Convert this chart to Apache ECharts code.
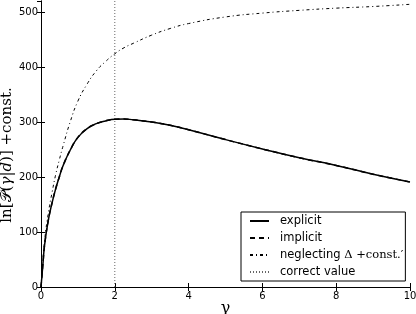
<!DOCTYPE html>
<html>
<head>
<meta charset="utf-8">
<script src="https://cdn.jsdelivr.net/npm/echarts@6/dist/echarts.min.js"></script>
<style>html,body{margin:0;padding:0;background:#fff;}#c{width:416px;height:314px;}</style>
</head>
<body>
<div id="c"></div>
<script>
var gammaVals    = [0, 0.05, 0.1, 0.2, 0.3, 0.4, 0.5, 0.6, 0.8, 1.0, 1.25, 1.5, 1.75, 2.0, 2.25, 2.5, 3.0, 3.5, 4.0, 5.0, 6.0, 7.0, 8.0, 9.0, 10.0];
var explicitVals = [0, 40, 78, 122, 153, 179, 201, 221, 250, 272, 288, 297, 302, 305, 305.5, 304, 300, 294, 286, 268, 251, 235, 221, 205, 191];
var implicitVals = [0, 40, 78, 122, 153, 179, 201, 221, 250, 272, 288, 297, 302, 305, 305.5, 304, 300, 294, 286, 268, 251, 235, 221, 205, 191];
var neglectVals  = [0, 45, 86, 135, 172, 205, 232, 257, 302, 338, 369, 393, 410, 424, 435, 443, 458, 470, 479, 491, 498, 503, 507, 510, 514];
var correctGamma = 2;
var yRange = [0, 520];
var yTicks = [0, 100, 200, 300, 400, 500];

function pairs(xs, ys){ return xs.map(function(x,i){ return [x, ys[i]]; }); }

var chart = echarts.init(document.getElementById('c'), null, {renderer:'canvas'});
var tickStyle = {show:true, inside:true, length:4, lineStyle:{color:'#000', width:1}};
var axisLineStyle = {show:true, lineStyle:{color:'#000', width:1}};
var option = {
  animation:false,
  backgroundColor:'#fff',
  grid:{left:41, right:6, top:1, bottom:27, containLabel:false, outerBoundsMode:'none'},
  xAxis:[{
    type:'value', min:0, max:10, interval:2, position:'bottom',
    axisLine:axisLineStyle, axisTick:tickStyle, splitLine:{show:false},
    axisLabel:{color:'#000', fontSize:10, fontFamily:'DejaVu Sans', margin:4},
    name:'γ', nameLocation:'middle', nameGap:14, nameMoveOverlap:false,
    nameTextStyle:{fontFamily:'DejaVu Serif', fontStyle:'normal', fontSize:16, color:'#000'}
  },{
    type:'value', min:0, max:10, interval:2, position:'top',
    axisLine:axisLineStyle, axisTick:tickStyle, splitLine:{show:false}, axisLabel:{show:false}
  }],
  yAxis:[{
    type:'value', min:yRange[0], max:yRange[1], interval:100, position:'left',
    axisLine:axisLineStyle, axisTick:tickStyle, splitLine:{show:false},
    axisLabel:{color:'#000', fontSize:10, fontFamily:'DejaVu Sans', margin:3, showMaxLabel:false,
      formatter:function(v){ return yTicks.indexOf(v) >= 0 ? String(v) : ''; }},
    name:'{a|ln[}{b|𝒫}{a|(}{i|γ}{a||}{i|d}{a|)] +const.}', nameLocation:'middle', nameGap:26, nameRotate:90,
    nameMoveOverlap:false,
    nameTextStyle:{color:'#000', fontSize:15, fontFamily:'DejaVu Serif', padding:[0,22,0,0],
      rich:{a:{fontFamily:'DejaVu Serif', fontSize:15, color:'#000'},
            b:{fontFamily:'DejaVu Serif', fontSize:15, color:'#000'},
            i:{fontFamily:'DejaVu Serif', fontStyle:'italic', fontSize:15, color:'#000'}}}
  },{
    type:'value', min:yRange[0], max:yRange[1], interval:100, position:'right',
    axisLine:axisLineStyle, axisTick:tickStyle, splitLine:{show:false}, axisLabel:{show:false}
  }],
  legend:{
    orient:'vertical', left:241, top:212,
    backgroundColor:'#fff', borderColor:'#000', borderWidth:1, borderRadius:0,
    padding:[3,2,3,8], itemWidth:19, itemHeight:12, itemGap:5,
    itemStyle:{opacity:0},
    textStyle:{color:'#000', fontSize:11.5, fontFamily:'DejaVu Sans', padding:[0,0,0,6],
      rich:{m:{fontFamily:'DejaVu Serif', fontSize:11.5, color:'#000'}}},
    formatter:function(name){
      if (name === 'neglecting') return 'neglecting {m|Δ +const.′}';
      return name;
    },
    data:['explicit','implicit','neglecting','correct value']
  },
  series:[{
    name:'explicit', type:'line', showSymbol:false, symbol:'none', smooth:0.5,
    data:pairs(gammaVals, explicitVals),
    lineStyle:{color:'#000', width:1.5, type:'solid'}, itemStyle:{color:'#000'}, z:3
  },{
    name:'implicit', type:'line', showSymbol:false, symbol:'none', smooth:0.5,
    data:pairs(gammaVals, implicitVals),
    lineStyle:{color:'#000', width:1.5, type:[5,4]}, itemStyle:{color:'#000'}, z:4
  },{
    name:'neglecting', type:'line', showSymbol:false, symbol:'none', smooth:0.5,
    data:pairs(gammaVals, neglectVals),
    lineStyle:{color:'#000', width:1, type:[3,3,1,3]}, itemStyle:{color:'#000'}, z:3
  },{
    name:'correct value', type:'line', showSymbol:false, symbol:'none',
    data:[[correctGamma, yRange[0]], [correctGamma, yRange[1]]],
    lineStyle:{color:'#666', width:1, type:[1,2]}, itemStyle:{color:'#666'}, z:2
  }]
};
chart.setOption(option);
</script>
</body>
</html>
